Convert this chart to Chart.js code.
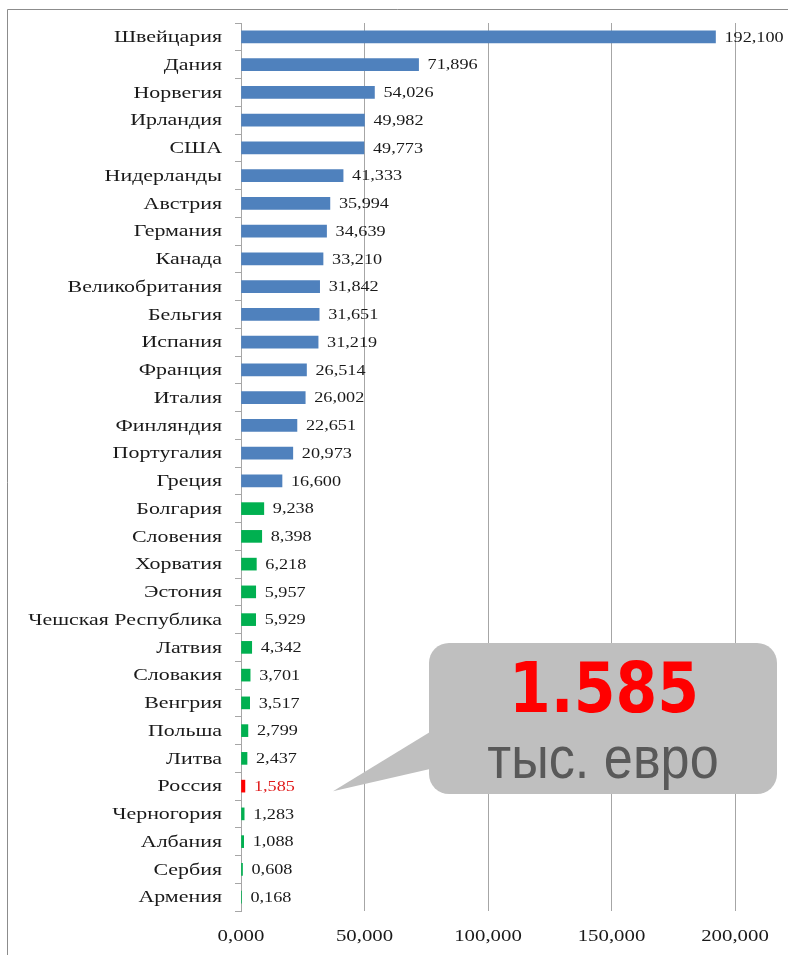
<!doctype html>
<html>

<head>
	<title>ВВП на душу населения</title>
	<script src="https://cdn.jsdelivr.net/npm/chart.js@4/dist/chart.umd.min.js"></script>
	<style>
		body {
			margin: 0;
			background: #fff;
		}
	</style>
</head>

<body>
	<canvas id="chart" width="788" height="955"></canvas>
	<script>
		var countries = ['Швейцария', 'Дания', 'Норвегия', 'Ирландия', 'США', 'Нидерланды', 'Австрия', 'Германия',
			'Канада', 'Великобритания', 'Бельгия', 'Испания', 'Франция', 'Италия', 'Финляндия', 'Португалия', 'Греция',
			'Болгария', 'Словения', 'Хорватия', 'Эстония', 'Чешская Республика', 'Латвия', 'Словакия', 'Венгрия',
			'Польша', 'Литва', 'Россия', 'Черногория', 'Албания', 'Сербия', 'Армения'];
		var values = [192.100, 71.896, 54.026, 49.982, 49.773, 41.333, 35.994, 34.639,
			33.210, 31.842, 31.651, 31.219, 26.514, 26.002, 22.651, 20.973, 16.600,
			9.238, 8.398, 6.218, 5.957, 5.929, 4.342, 3.701, 3.517,
			2.799, 2.437, 1.585, 1.283, 1.088, 0.608, 0.168];
		var xTicks = [0, 50, 100, 150, 200];
		var westernCount = 17; // first block of countries, drawn in blue
		var highlight = 'Россия';
		var calloutUnit = 'тыс. евро';

		var fmt = function(v) {
			return v.toFixed(3).replace('.', ',');
		};

		var barColors = countries.map(function(c, i) {
			if (c === highlight) return '#ff0000';
			return i < westernCount ? '#4f81bd' : '#00b050';
		});

		// text drawn a bit wider than the font, like the original export
		function wideText(ctx, text, x, y, font, color, align, sx, baseline) {
			ctx.save();
			ctx.translate(x, y);
			ctx.scale(sx, 1);
			ctx.font = font;
			ctx.fillStyle = color;
			ctx.textAlign = align;
			ctx.textBaseline = baseline || 'middle';
			ctx.fillText(text, 0, 0);
			ctx.restore();
		}

		var labelsPlugin = {
			id: 'labels',
			beforeDraw: function(chart) {
				var ctx = chart.ctx;
				ctx.save();
				ctx.fillStyle = '#fff';
				ctx.fillRect(0, 0, chart.width, chart.height);
				// frame
				ctx.strokeStyle = '#8c8c8c';
				ctx.lineWidth = 1;
				ctx.beginPath();
				ctx.moveTo(7.5, chart.height);
				ctx.lineTo(7.5, 9.5);
				ctx.lineTo(chart.width, 9.5);
				ctx.stroke();
				ctx.restore();
			},
			afterDraw: function(chart) {
				var ctx = chart.ctx;
				var xs = chart.scales.x;
				var ys = chart.scales.y;
				var serif = '"Liberation Serif", "Times New Roman", serif';

				countries.forEach(function(c, i) {
					var y = ys.getPixelForValue(i) + 1;
					wideText(ctx, c, ys.right - 19, y, '16px ' + serif, '#1a1a1a', 'right', 1.37);
					var red = c === highlight;
					wideText(ctx, fmt(values[i]), xs.getPixelForValue(values[i]) + 9, y, '14px ' + serif,
						red ? '#e01b1b' : '#1a1a1a', 'left', 1.3);
				});

				xTicks.forEach(function(t) {
					wideText(ctx, fmt(t), xs.getPixelForValue(t), xs.top + 26, '16px ' + serif, '#1a1a1a', 'center', 1.3);
				});

				// callout pointing at the highlighted bar
				var hi = countries.indexOf(highlight);
				var tipY = ys.getPixelForValue(hi) + 5;
				ctx.save();
				ctx.fillStyle = '#bfbfbf';
				ctx.beginPath();
				ctx.roundRect(429, 643, 348, 151, 20);
				ctx.fill();
				ctx.beginPath();
				ctx.moveTo(430, 732);
				ctx.lineTo(333, tipY);
				ctx.lineTo(430, 769);
				ctx.closePath();
				ctx.fill();
				ctx.restore();
				wideText(ctx, values[hi].toFixed(3), 604, 712, 'bold 69px "DejaVu Sans", sans-serif', '#ff0000', 'center', 0.87, 'alphabetic');
				wideText(ctx, calloutUnit, 603, 778, '60px "Liberation Sans", Arial, sans-serif', '#595959', 'center', 0.87, 'alphabetic');
			}
		};

		window.onload = function() {
			var chartEl = document.getElementById('chart');
			window.myBar = new Chart(chartEl, {
				type: 'bar',
				data: {
					labels: countries,
					datasets: [{
						data: values,
						backgroundColor: barColors,
						barThickness: 12
					}]
				},
				plugins: [labelsPlugin],
				options: {
					indexAxis: 'y',
					responsive: false,
					animation: false,
					layout: {
						padding: {top: 23, right: 53, left: 0, bottom: 0}
					},
					plugins: {
						legend: {display: false},
						tooltip: {enabled: false}
					},
					scales: {
						x: {
							min: 0,
							max: 200,
							ticks: {display: false, stepSize: 50},
							grid: {color: '#a6a6a6', drawTicks: false},
							border: {display: false},
							afterFit: function(s) {
								s.height = 44;
							}
						},
						y: {
							ticks: {display: false},
							grid: {drawOnChartArea: false, drawTicks: true, tickLength: 6, color: '#a6a6a6', offset: true},
							border: {display: true, color: '#a6a6a6'},
							afterFit: function(s) {
								s.width = 241;
							}
						}
					}
				}
			});
		};
	</script>
</body>

</html>
